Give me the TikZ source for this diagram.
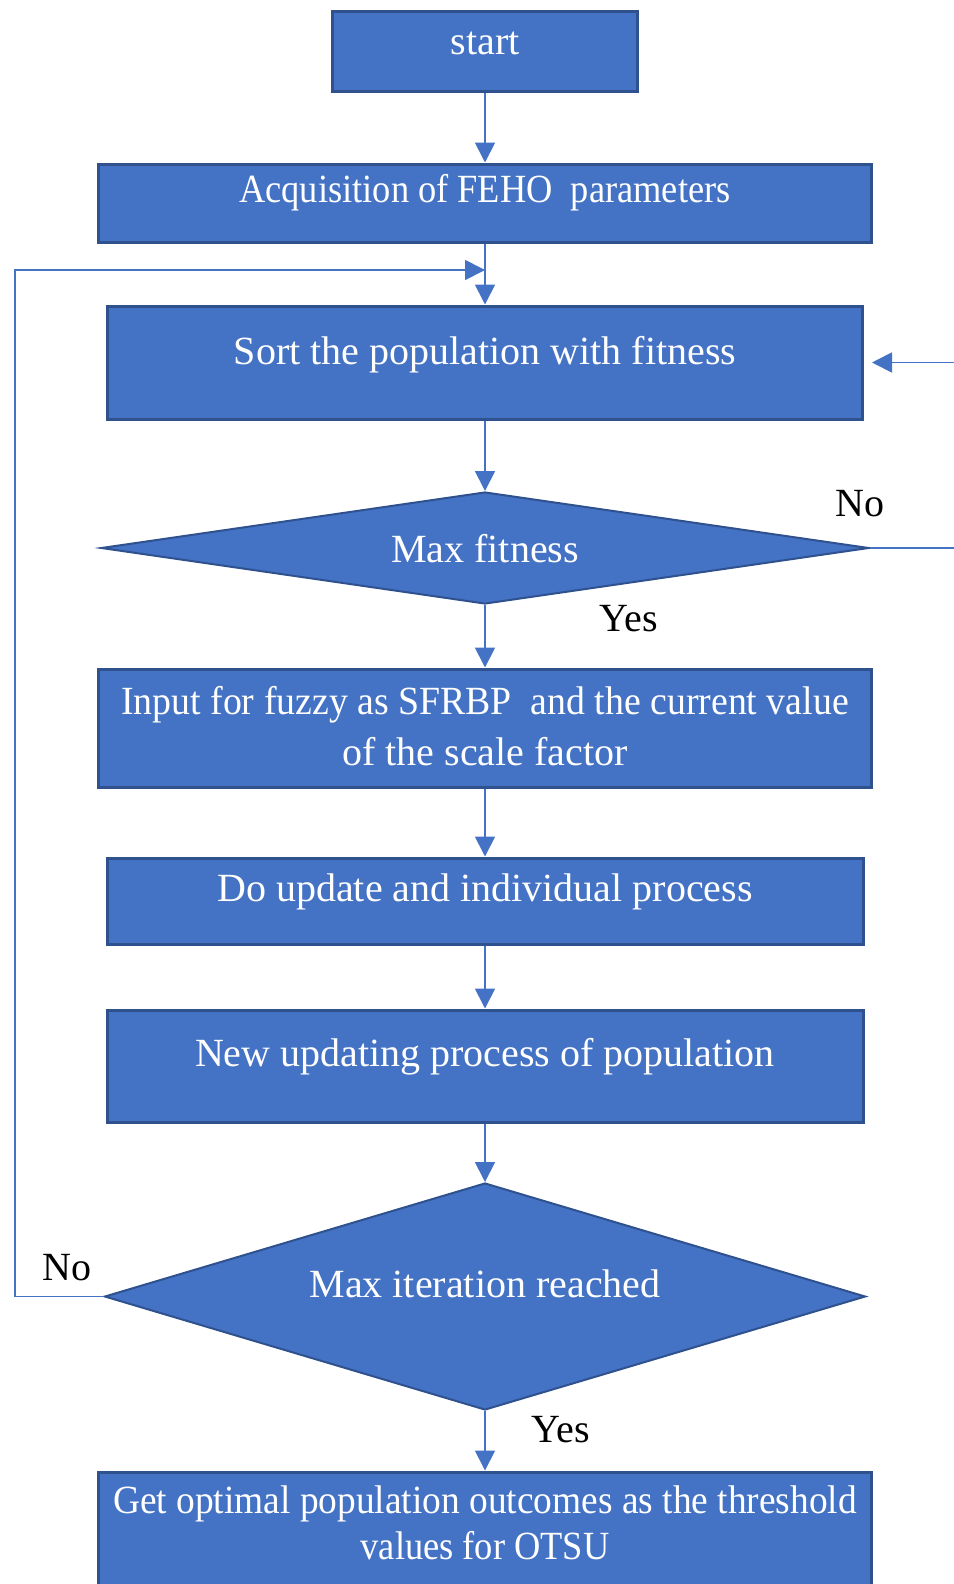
\documentclass[tikz,border=0pt]{standalone}
\usepackage{fontspec}
\setmainfont{Liberation Serif}
\usetikzlibrary{shapes.geometric,arrows.meta}
\definecolor{boxblue}{HTML}{4472C4}
\definecolor{boxedge}{HTML}{2F528F}
\begin{document}
\begin{tikzpicture}[x=0.5pt,y=-0.5pt,
  box/.style={draw=boxedge,line width=1.5pt,fill=boxblue,rectangle,inner sep=0pt},
  dec/.style={draw=boxedge,line width=1pt,fill=boxblue,diamond,inner sep=0pt},
  txt/.style={text=white,font=\fontsize{20}{23}\selectfont,align=center,inner sep=0pt},
  lab/.style={text=black,font=\fontsize{20}{23}\selectfont,inner sep=0pt},
  conn/.style={draw=boxblue,line width=0.9pt},
  arr/.style={conn,-{Triangle[length=10pt,width=10pt]}}]
\useasboundingbox (0,0) rectangle (953,1584);
% boxes
\node[box,minimum width=152.5pt,minimum height=40pt] (start) at (485,52) {};
\node[box,minimum width=386.5pt,minimum height=39pt] (acq) at (485,203) {};
\node[box,minimum width=377.5pt,minimum height=56.5pt] (sort) at (485,362.5) {};
\node[dec,minimum width=384pt,minimum height=56pt] (d1) at (485,548) {};
\node[box,minimum width=386.5pt,minimum height=59pt] (inp) at (485,728) {};
\node[box,minimum width=378pt,minimum height=43pt] (upd) at (485,901) {};
\node[box,minimum width=378pt,minimum height=56pt] (newp) at (485,1066) {};
\node[dec,minimum width=380.5pt,minimum height=113.5pt] (d2) at (485,1296.5) {};
\node[box,minimum width=386.5pt,minimum height=64pt] (get) at (485,1536) {};
% texts
\node[txt] (t0) at (485,43) {start};
\node[txt] (t1) at (485,193) {\scalebox{0.91}[1]{Acquisition of FEHO~~parameters}};
\node[txt] (t2) at (485,355) {Sort the population with fitness};
\node[txt] (t3) at (485,549) {Max fitness};
\node[txt,font=\fontsize{20}{25.5}\selectfont] (t4) at (485,726) {\scalebox{0.945}[1]{Input for fuzzy as SFRBP~~and the current value}\\of the scale factor};
\node[txt] (t5) at (485,892) {Do update and individual process};
\node[txt] (t6) at (485,1057) {New updating process of population};
\node[txt] (t7) at (485,1284) {Max iteration reached};
\node[txt,font=\fontsize{20}{23}\selectfont] (t8) at (485,1523) {\scalebox{0.935}[1]{Get optimal population outcomes as the threshold}\\\scalebox{0.91}[1]{values for OTSU}};
% labels
\node[lab] (no1) at (860,504) {No};
\node[lab] (yes1) at (629,619) {Yes};
\node[lab] (no2) at (67,1268) {No};
\node[lab] (yes2) at (561,1430) {Yes};
% coordinates
\coordinate (j) at (485,270);
\coordinate (l1) at (15,1296.5);
\coordinate (l2) at (15,270);
\coordinate (r1) at (962,548);
\coordinate (r2) at (962,362.5);
% connectors
\draw[arr] (start.south) -- (acq.north);
\draw[arr] (acq.south) -- (sort.north);
\draw[arr] (sort.south) -- (d1.north);
\draw[arr] (d1.south) -- (inp.north);
\draw[arr] (inp.south) -- (upd.north);
\draw[arr] (upd.south) -- (newp.north);
\draw[arr] (newp.south) -- (d2.north);
\draw[arr] (d2.south) -- (get.north);
\draw[arr] (d2.west) -- (l1) -- (l2) -- (j);
\draw[arr,shorten >=4pt] (d1.east) -- (r1) -- (r2) -- (sort.east);
\end{tikzpicture}
\end{document}
